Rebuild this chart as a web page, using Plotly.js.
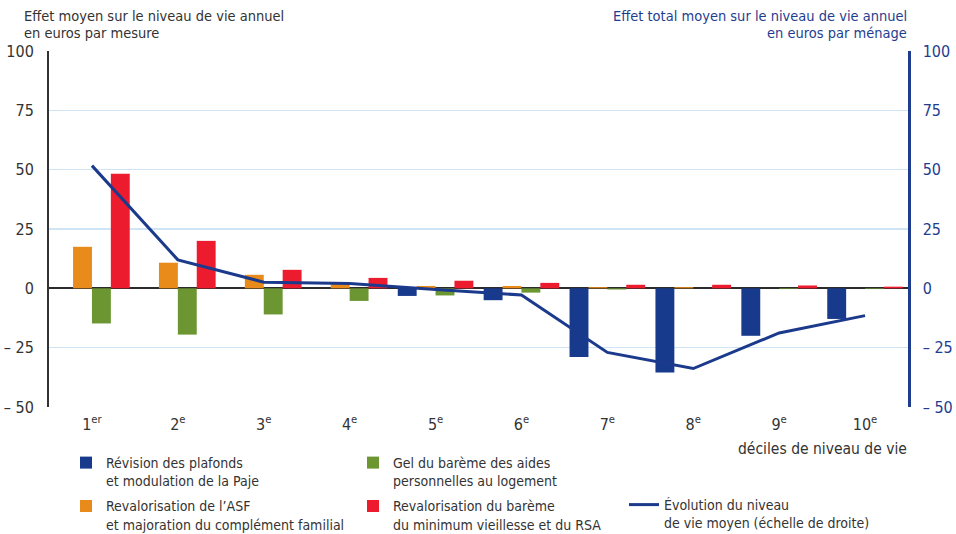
<!DOCTYPE html>
<html>
<head>
<meta charset="utf-8">
<script src="https://cdn.plot.ly/plotly-3.0.1.min.js"></script>
<style>
html,body{margin:0;padding:0;background:#fff;}
#chart{width:956px;height:534px;}
</style>
</head>
<body>
<div id="chart"></div>
<script>
const deciles = ["1<sup>er</sup>","2<sup>e</sup>","3<sup>e</sup>","4<sup>e</sup>","5<sup>e</sup>","6<sup>e</sup>","7<sup>e</sup>","8<sup>e</sup>","9<sup>e</sup>","10<sup>e</sup>"];
const paje = [0, 0, 0, 0, -3.2, -5, -28.9, -35.5, -20, -12.9];
const asf = [17.5, 10.8, 5.7, 2, 1, 1, 0.5, 0.5, 0, 0];
const apl = [-14.8, -19.5, -11, -5.3, -3, -1.8, -0.5, 0, -0.3, -0.3];
const minima = [48.3, 20, 7.8, 4.4, 3.2, 2.3, 1.5, 1.5, 1.2, 0.7];
const total = [51.7, 12, 2.6, 2, -0.5, -2.8, -27, -33.8, -18.8, -11.5];
const yTickVals = [-50, -25, 0, 25, 50, 75, 100];
const yTickText = ["– 50", "– 25", "0", "25", "50", "75", "100"];

const FONT = '"DejaVu Sans Condensed", "Liberation Sans", sans-serif';
const DARK = '#333333';
const NAVY = '#1f3d8f';

const names = {
  paje: "Révision des plafonds<br>et modulation de la Paje",
  asf: "Revalorisation de l’ASF<br>et majoration du complément familial",
  apl: "Gel du barème des aides<br>personnelles au logement",
  minima: "Revalorisation du barème<br>du minimum vieillesse et du RSA",
  total: "Évolution du niveau<br>de vie moyen (échelle de droite)"
};
const idx = deciles.map((d, i) => i);

const traces = [
  {type:'bar', x: idx, y: paje, name: names.paje, legendgroup:'g1', marker:{color:'#173a8c'}, legend:'legend', hoverinfo:'skip'},
  {type:'bar', x: idx, y: asf, name: names.asf, legendgroup:'g2', marker:{color:'#e98b1b'}, legend:'legend', hoverinfo:'skip'},
  {type:'bar', x: idx, y: apl, name: names.apl, legendgroup:'g3', marker:{color:'#6b9631'}, legend:'legend2', hoverinfo:'skip'},
  {type:'bar', x: idx, y: minima, name: names.minima, legendgroup:'g4', marker:{color:'#ec1c2e'}, legend:'legend2', hoverinfo:'skip'},
  {type:'scatter', mode:'lines', x: idx, y: total, yaxis:'y2', name: names.total, legendgroup:'g5', line:{color:'#1c3a8c', width:3}, legend:'legend3', hoverinfo:'skip'}
];

const W = 956, H = 534, L = 49, R = 908, T = 51, B = 407;
const px = v => (v - L) / (R - L);
const py = v => (B - v) / (B - T);
const cx = v => v / W;
const cy = v => 1 - v / H;

const legFont = {family: FONT, size: 14, color: DARK};
const legCommon = {xref:'container', yref:'container', xanchor:'left', yanchor:'top', bgcolor:'rgba(0,0,0,0)', font: legFont, valign:'top', tracegroupgap: 4, traceorder:'grouped'};

const layout = {
  width: W, height: H,
  margin: {l: L, r: W - R, t: T, b: H - B, pad: 0, autoexpand: false},
  paper_bgcolor: '#ffffff', plot_bgcolor: '#ffffff',
  font: {family: FONT, color: DARK, size: 14},
  barmode: 'group', bargap: 0.12, bargroupgap: 0,
  xaxis: {
    tickmode:'array', tickvals: idx, ticktext: deciles,
    range: [-0.5, 9.5], showgrid:false, zeroline:false, showline:false,
    ticks:'', tickfont:{family: FONT, size: 16, color: DARK}, ticklabelstandoff: 6
  },
  yaxis: {
    range: [-50, 100], tickmode:'array', tickvals: yTickVals, ticktext: yTickText,
    showgrid: true, gridcolor:'#cfe5f5', gridwidth: 1.5,
    zeroline: true, zerolinecolor:'#2b2b2b', zerolinewidth: 2,
    showline: true, linecolor:'#333333', linewidth: 2,
    ticks:'', tickfont:{family: FONT, size: 16, color: DARK}, ticklabelstandoff: 10
  },
  yaxis2: {
    overlaying:'y', side:'right', range: [-50, 100], tickmode:'array', tickvals: yTickVals, ticktext: yTickText,
    showgrid:false, zeroline:false, showline:true, linecolor: NAVY, linewidth: 2.5,
    ticks:'', tickfont:{family: FONT, size: 16, color: NAVY}, ticklabelstandoff: 9
  },
  showlegend: true,
  legend: Object.assign({}, legCommon, {x: cx(66), y: cy(447)}),
  legend2: Object.assign({}, legCommon, {x: cx(353), y: cy(447)}),
  legend3: Object.assign({}, legCommon, {x: cx(624), y: cy(489)}),
  annotations: [
    {text:'Effet moyen sur le niveau de vie annuel', xref:'paper', yref:'paper', x: px(22), y: py(16), xanchor:'left', yanchor:'middle', showarrow:false, font:{family: FONT, size:14.5, color: DARK}},
    {text:'en euros par mesure', xref:'paper', yref:'paper', x: px(22), y: py(33), xanchor:'left', yanchor:'middle', showarrow:false, font:{family: FONT, size:14.5, color: DARK}},
    {text:'Effet total moyen sur le niveau de vie annuel', xref:'paper', yref:'paper', x: px(909), y: py(16), xanchor:'right', yanchor:'middle', showarrow:false, font:{family: FONT, size:14.5, color: NAVY}},
    {text:'en euros par ménage', xref:'paper', yref:'paper', x: px(909), y: py(33), xanchor:'right', yanchor:'middle', showarrow:false, font:{family: FONT, size:14.5, color: NAVY}},
    {text:'déciles de niveau de vie', xref:'paper', yref:'paper', x: px(909), y: py(449), xanchor:'right', yanchor:'middle', showarrow:false, font:{family: FONT, size:15.5, color: DARK}}
  ]
};

Plotly.newPlot('chart', traces, layout, {displayModeBar:false, staticPlot:true});
</script>
</body>
</html>
